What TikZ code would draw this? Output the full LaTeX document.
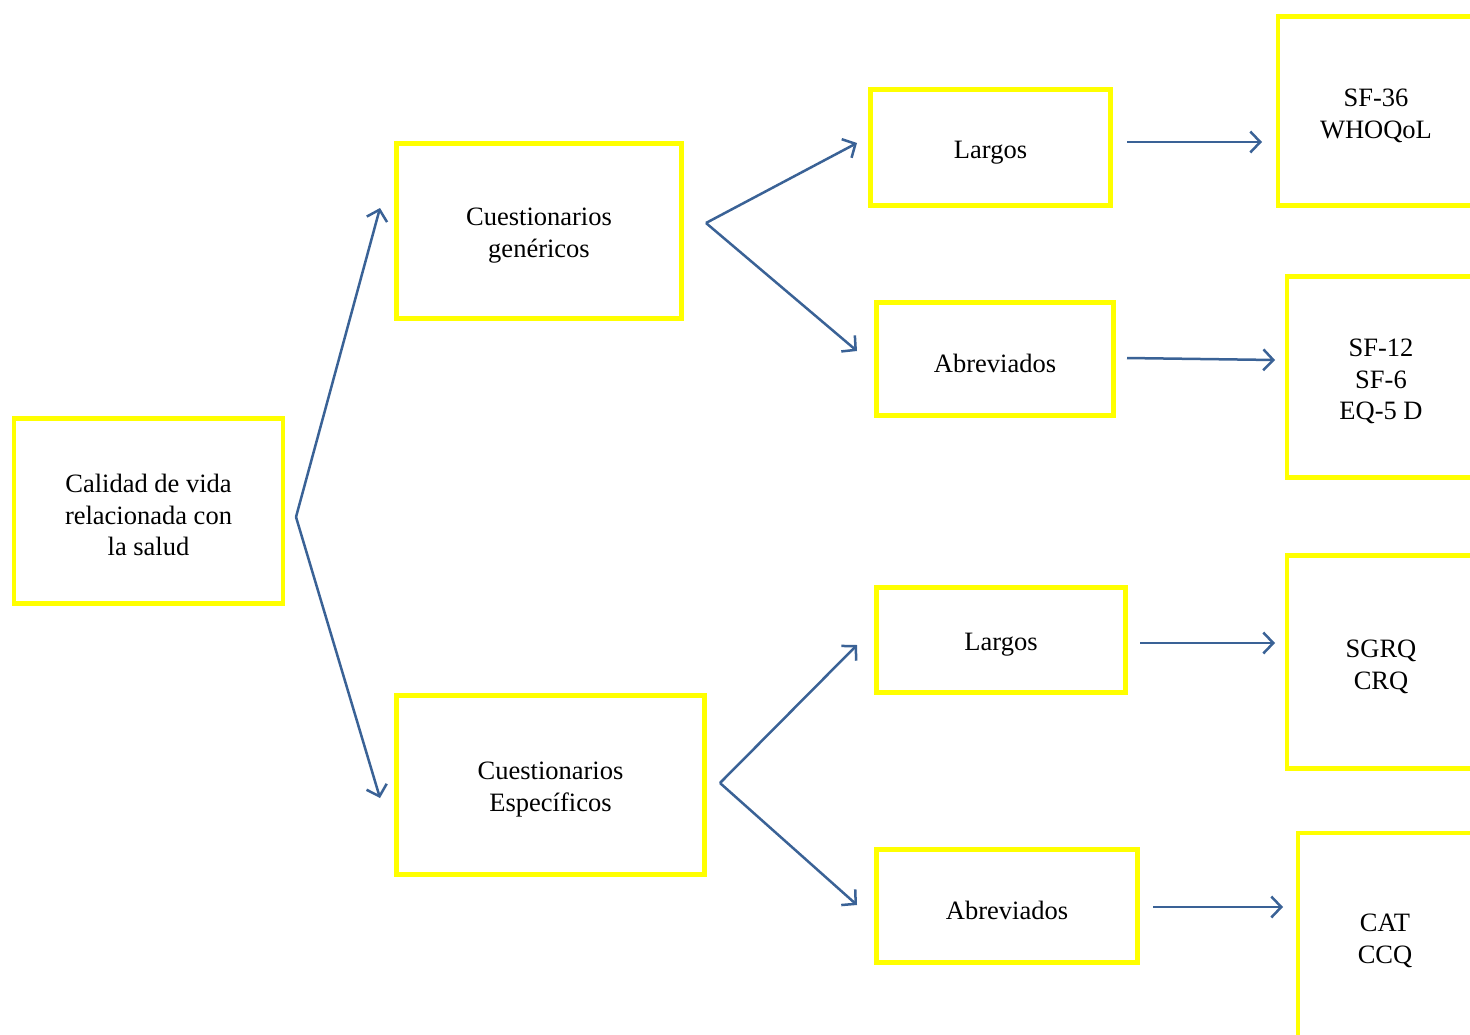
\documentclass[tikz,border=0pt]{standalone}
\usepackage{fontspec}
\setmainfont{Liberation Serif}
\usetikzlibrary{arrows.meta}
\definecolor{arrowblue}{HTML}{3A6296}
\definecolor{boxyellow}{HTML}{FFFF00}
\newcommand{\topstrut}{\rule{0pt}{27pt}}
\newcommand{\catstrut}{\rule{0pt}{21pt}}
\begin{document}
\begin{tikzpicture}[x=1pt,y=-1pt,
  box/.style={draw=boxyellow,line width=4.5pt,fill=white,align=center,inner sep=0pt,
    font=\fontsize{26.5}{31.5}\selectfont,text=black},
  conn/.style={draw=arrowblue,line width=2.5pt,-{Straight Barb[length=10pt,width=21pt,line width=2.5pt]}}]
\path[use as bounding box,clip] (0,0) rectangle (1470,1034);
\fill[white] (0,0) rectangle (1470,1034);
% boxes
\node[box,minimum width=269pt,minimum height=185pt] (calidad) at (148.5,511) {\topstrut Calidad de vida\\relacionada con\\la salud};
\node[box,minimum width=285pt,minimum height=175pt] (gen) at (539,231) {\topstrut Cuestionarios\\genéricos};
\node[box,minimum width=308pt,minimum height=179pt] (esp) at (550.5,785) {\topstrut Cuestionarios\\Específicos};
\node[box,minimum width=240pt,minimum height=116pt] (larg1) at (990.5,147.5) {\topstrut Largos};
\node[box,minimum width=237pt,minimum height=113pt] (abre1) at (995,359) {\topstrut Abreviados};
\node[box,minimum width=249pt,minimum height=105pt] (larg2) at (1001,640) {\topstrut Largos};
\node[box,minimum width=261pt,minimum height=113pt] (abre2) at (1007,906) {\topstrut Abreviados};
\node[box,minimum width=196pt,minimum height=189pt] (sf36) at (1376,111) {\topstrut SF-36\\WHOQoL};
\node[box,minimum width=188pt,minimum height=201pt] (sf12) at (1381,377) {\topstrut SF-12\\SF-6\\EQ-5 D};
\node[box,minimum width=188pt,minimum height=213pt] (sgrq) at (1381,662) {\topstrut SGRQ\\CRQ};
\node[box,minimum width=174pt,minimum height=212pt] (cat) at (1385,939) {\catstrut CAT\\CCQ};
% branch points and arrow ends
\coordinate (b0) at (296,517);
\coordinate (b0a) at (380,208);
\coordinate (b0b) at (380,798);
\coordinate (b1) at (706,223);
\coordinate (b1a) at (857,143);
\coordinate (b1b) at (857,351);
\coordinate (b2) at (720,783);
\coordinate (b2a) at (857,645);
\coordinate (b2b) at (857,905);
\coordinate (h1s) at (1127,142);
\coordinate (h1e) at (1262,142);
\coordinate (h2s) at (1127,358);
\coordinate (h2e) at (1275,360);
\coordinate (h3s) at (1140,643);
\coordinate (h3e) at (1275,643);
\coordinate (h4s) at (1153,907);
\coordinate (h4e) at (1283,907);
% connectors
\draw[conn] (b0) -- (b0a);
\draw[conn] (b0) -- (b0b);
\draw[conn] (b1) -- (b1a);
\draw[conn] (b1) -- (b1b);
\draw[conn] (b2) -- (b2a);
\draw[conn] (b2) -- (b2b);
\draw[conn] (h1s) -- (h1e);
\draw[conn] (h2s) -- (h2e);
\draw[conn] (h3s) -- (h3e);
\draw[conn] (h4s) -- (h4e);
\end{tikzpicture}
\end{document}
